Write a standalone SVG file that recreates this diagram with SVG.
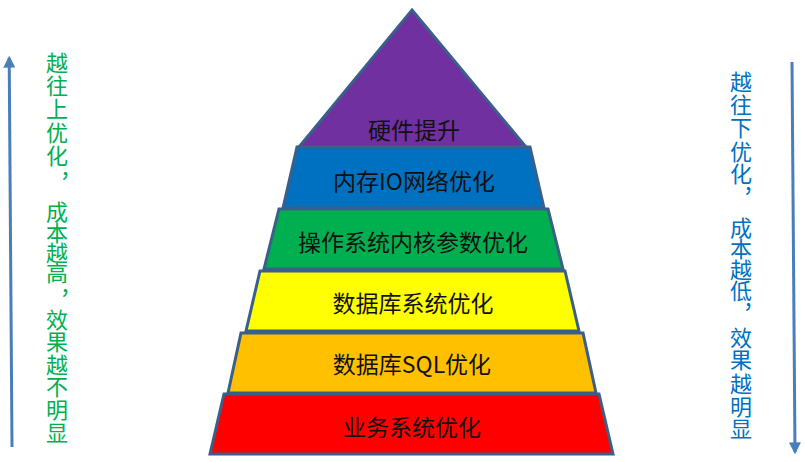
<svg xmlns="http://www.w3.org/2000/svg" width="805" height="462" viewBox="0 0 805 462">
<style>
.lvl{stroke:#3a5f8b;stroke-width:3;stroke-linejoin:miter}
.lbl{font-family:"Noto Sans CJK SC","Noto Sans",sans-serif;font-size:23px;fill:#111;text-anchor:middle}
.side{font-family:"Noto Sans CJK SC",sans-serif;font-size:22px;text-anchor:middle}
.arr{stroke:#4a7ebb;stroke-width:3;fill:none}
</style>
<defs>
<marker id="ah" viewBox="0 0 10 10" refX="8" refY="5" markerWidth="4" markerHeight="4" orient="auto" markerUnits="strokeWidth">
<path d="M0,0 L10,5 L0,10 z" fill="#4a7ebb"/>
</marker>
</defs>
<rect width="805" height="462" fill="#fff"/>
<g id="level-hardware">
<polygon class="lvl" points="412,10 526,147 299,147" fill="#7030a0"/>
<text class="lbl" x="414" y="139">硬件提升</text>
</g>
<g id="level-memory">
<polygon class="lvl" points="297,147 530,147 544,208 283,208" fill="#0070c0"/>
<text class="lbl" x="414" y="190">内存IO网络优化</text>
</g>
<g id="level-os">
<polygon class="lvl" points="279,209 548,209 563,269 264,269" fill="#00b050"/>
<text class="lbl" x="413" y="251">操作系统内核参数优化</text>
</g>
<g id="level-dbsys">
<polygon class="lvl" points="260,271 565,271 579,331 246,331" fill="#ffff00"/>
<text class="lbl" x="413" y="312">数据库系统优化</text>
</g>
<g id="level-sql">
<polygon class="lvl" points="241,333 583,333 596,393 228,393" fill="#ffc000"/>
<text class="lbl" x="412" y="373">数据库SQL优化</text>
</g>
<g id="level-business">
<polygon class="lvl" points="224,394 599,394 613,454 210,454" fill="#ff0000"/>
<text class="lbl" x="412" y="436">业务系统优化</text>
</g>
<g id="connectors">
<line class="arr" x1="12" y1="447" x2="9.2" y2="58" marker-end="url(#ah)"/>
<line class="arr" x1="792" y1="62" x2="795" y2="452" marker-end="url(#ah)"/>
</g>
<g id="left-note">
<text class="side" fill="#00b050" x="57 57 57 57 57 71 57 57 57 57 71 57 57 57 57 57 57" y="71 94 117 141 164 177 220 241 261 281 294 328 350 373 395 418 441">越往上优化，成本越高，效果越不明显</text>
</g>
<g id="right-note">
<text class="side" fill="#0070c0" x="741 741 741 741 741 754 741 741 741 741 754 741 741 741 741 741" y="90 113 136 160 182 192 236 257 278 299 308 346 368 392 415 437">越往下优化，成本越低，效果越明显</text>
</g>
</svg>
